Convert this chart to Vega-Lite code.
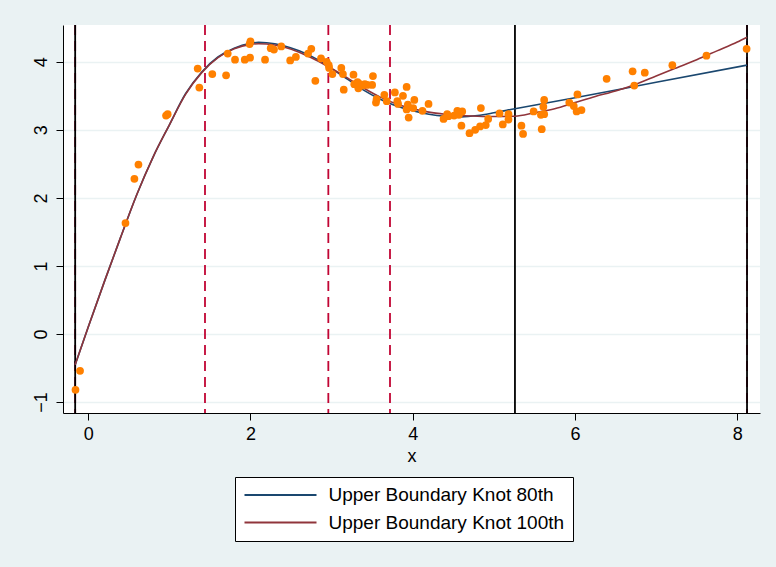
{
  "$schema": "https://vega.github.io/schema/vega-lite/v6.json",
  "width": 697,
  "height": 388,
  "autosize": {"type": "none"},
  "padding": {"left": 63, "top": 25, "right": 16, "bottom": 154},
  "background": "#EAF2F3",
  "config": {
    "view": {"fill": "white", "stroke": null},
    "font": "Liberation Sans",
    "axis": {
      "domainColor": "#000000",
      "domainWidth": 1,
      "tickColor": "#000000",
      "tickSize": 7,
      "labelFont": "Liberation Sans",
      "labelFontSize": 18,
      "labelColor": "#000000",
      "titleFont": "Liberation Sans",
      "titleFontSize": 18,
      "titleFontWeight": "normal",
      "titleColor": "#000000",
      "gridColor": "#EAF2F3",
      "gridWidth": 1.5
    }
  },
  "datasets": {
    "points": [
      {"x": -0.156, "y": -0.82}, {"x": -0.10, "y": -0.54}, {"x": 0.46, "y": 1.63}, {"x": 0.57, "y": 2.28},
      {"x": 0.62, "y": 2.49}, {"x": 0.96, "y": 3.21}, {"x": 0.98, "y": 3.23}, {"x": 1.35, "y": 3.90},
      {"x": 1.37, "y": 3.62}, {"x": 1.53, "y": 3.82}, {"x": 1.70, "y": 3.80}, {"x": 1.72, "y": 4.12},
      {"x": 1.81, "y": 4.03}, {"x": 1.93, "y": 4.03}, {"x": 1.995, "y": 4.06}, {"x": 1.99, "y": 4.26},
      {"x": 2.00, "y": 4.30}, {"x": 2.18, "y": 4.03}, {"x": 2.25, "y": 4.20}, {"x": 2.29, "y": 4.18},
      {"x": 2.38, "y": 4.225}, {"x": 2.49, "y": 4.02}, {"x": 2.56, "y": 4.07}, {"x": 2.71, "y": 4.12},
      {"x": 2.75, "y": 4.19}, {"x": 2.80, "y": 3.72}, {"x": 2.87, "y": 4.05}, {"x": 2.94, "y": 4.00},
      {"x": 2.965, "y": 3.95}, {"x": 2.97, "y": 3.91}, {"x": 3.01, "y": 3.82}, {"x": 3.12, "y": 3.91},
      {"x": 3.14, "y": 3.82}, {"x": 3.15, "y": 3.59}, {"x": 3.27, "y": 3.81}, {"x": 3.28, "y": 3.67},
      {"x": 3.32, "y": 3.70}, {"x": 3.33, "y": 3.61}, {"x": 3.34, "y": 3.64}, {"x": 3.35, "y": 3.67},
      {"x": 3.38, "y": 3.65}, {"x": 3.41, "y": 3.67}, {"x": 3.44, "y": 3.66}, {"x": 3.50, "y": 3.66},
      {"x": 3.51, "y": 3.79}, {"x": 3.547, "y": 3.40}, {"x": 3.555, "y": 3.45}, {"x": 3.65, "y": 3.515},
      {"x": 3.68, "y": 3.42}, {"x": 3.78, "y": 3.55}, {"x": 3.81, "y": 3.42}, {"x": 3.82, "y": 3.38},
      {"x": 3.88, "y": 3.50}, {"x": 3.925, "y": 3.63}, {"x": 3.94, "y": 3.37}, {"x": 3.925, "y": 3.30},
      {"x": 3.95, "y": 3.18}, {"x": 4.006, "y": 3.32}, {"x": 4.02, "y": 3.44}, {"x": 4.12, "y": 3.28},
      {"x": 4.195, "y": 3.38}, {"x": 4.38, "y": 3.16}, {"x": 4.425, "y": 3.23}, {"x": 4.44, "y": 3.20},
      {"x": 4.51, "y": 3.21}, {"x": 4.55, "y": 3.28}, {"x": 4.57, "y": 3.22}, {"x": 4.61, "y": 3.27},
      {"x": 4.60, "y": 3.06}, {"x": 4.70, "y": 2.95}, {"x": 4.77, "y": 3.00}, {"x": 4.83, "y": 3.05},
      {"x": 4.90, "y": 3.07}, {"x": 4.84, "y": 3.32}, {"x": 4.93, "y": 3.16}, {"x": 5.07, "y": 3.24},
      {"x": 5.11, "y": 3.08}, {"x": 5.18, "y": 3.23}, {"x": 5.18, "y": 3.15}, {"x": 5.34, "y": 3.06},
      {"x": 5.36, "y": 2.94}, {"x": 5.49, "y": 3.27}, {"x": 5.59, "y": 3.01}, {"x": 5.58, "y": 3.22},
      {"x": 5.62, "y": 3.23}, {"x": 5.61, "y": 3.34}, {"x": 5.62, "y": 3.44}, {"x": 5.93, "y": 3.40},
      {"x": 5.985, "y": 3.35}, {"x": 6.03, "y": 3.52}, {"x": 6.02, "y": 3.27}, {"x": 6.08, "y": 3.29},
      {"x": 6.39, "y": 3.75}, {"x": 6.71, "y": 3.86}, {"x": 6.73, "y": 3.65}, {"x": 6.86, "y": 3.84},
      {"x": 7.20, "y": 3.95}, {"x": 7.62, "y": 4.09}, {"x": 8.115, "y": 4.19}
    ],
    "curves": [
      {"series": "Upper Boundary Knot 80th", "x": -0.16, "y": -0.45},
      {"series": "Upper Boundary Knot 80th", "x": 0.0, "y": 0.10},
      {"series": "Upper Boundary Knot 80th", "x": 0.2, "y": 0.77},
      {"series": "Upper Boundary Knot 80th", "x": 0.4, "y": 1.42},
      {"series": "Upper Boundary Knot 80th", "x": 0.6, "y": 2.05},
      {"series": "Upper Boundary Knot 80th", "x": 0.8, "y": 2.60},
      {"series": "Upper Boundary Knot 80th", "x": 1.0, "y": 3.07},
      {"series": "Upper Boundary Knot 80th", "x": 1.2, "y": 3.53},
      {"series": "Upper Boundary Knot 80th", "x": 1.4, "y": 3.85},
      {"series": "Upper Boundary Knot 80th", "x": 1.6, "y": 4.07},
      {"series": "Upper Boundary Knot 80th", "x": 1.8, "y": 4.20},
      {"series": "Upper Boundary Knot 80th", "x": 2.0, "y": 4.27},
      {"series": "Upper Boundary Knot 80th", "x": 2.1, "y": 4.285},
      {"series": "Upper Boundary Knot 80th", "x": 2.2, "y": 4.28},
      {"series": "Upper Boundary Knot 80th", "x": 2.4, "y": 4.24},
      {"series": "Upper Boundary Knot 80th", "x": 2.6, "y": 4.16},
      {"series": "Upper Boundary Knot 80th", "x": 2.8, "y": 4.05},
      {"series": "Upper Boundary Knot 80th", "x": 3.0, "y": 3.90},
      {"series": "Upper Boundary Knot 80th", "x": 3.2, "y": 3.74},
      {"series": "Upper Boundary Knot 80th", "x": 3.4, "y": 3.58},
      {"series": "Upper Boundary Knot 80th", "x": 3.6, "y": 3.45},
      {"series": "Upper Boundary Knot 80th", "x": 3.8, "y": 3.35},
      {"series": "Upper Boundary Knot 80th", "x": 4.0, "y": 3.28},
      {"series": "Upper Boundary Knot 80th", "x": 4.2, "y": 3.23},
      {"series": "Upper Boundary Knot 80th", "x": 4.4, "y": 3.20},
      {"series": "Upper Boundary Knot 80th", "x": 4.6, "y": 3.19},
      {"series": "Upper Boundary Knot 80th", "x": 4.8, "y": 3.21},
      {"series": "Upper Boundary Knot 80th", "x": 5.0, "y": 3.25},
      {"series": "Upper Boundary Knot 80th", "x": 5.26, "y": 3.31},
      {"series": "Upper Boundary Knot 80th", "x": 6.0, "y": 3.47},
      {"series": "Upper Boundary Knot 80th", "x": 7.0, "y": 3.70},
      {"series": "Upper Boundary Knot 80th", "x": 8.12, "y": 3.95},
      {"series": "Upper Boundary Knot 100th", "x": -0.16, "y": -0.45},
      {"series": "Upper Boundary Knot 100th", "x": 0.0, "y": 0.10},
      {"series": "Upper Boundary Knot 100th", "x": 0.2, "y": 0.77},
      {"series": "Upper Boundary Knot 100th", "x": 0.4, "y": 1.42},
      {"series": "Upper Boundary Knot 100th", "x": 0.6, "y": 2.05},
      {"series": "Upper Boundary Knot 100th", "x": 0.8, "y": 2.60},
      {"series": "Upper Boundary Knot 100th", "x": 1.0, "y": 3.07},
      {"series": "Upper Boundary Knot 100th", "x": 1.2, "y": 3.52},
      {"series": "Upper Boundary Knot 100th", "x": 1.4, "y": 3.84},
      {"series": "Upper Boundary Knot 100th", "x": 1.6, "y": 4.06},
      {"series": "Upper Boundary Knot 100th", "x": 1.8, "y": 4.19},
      {"series": "Upper Boundary Knot 100th", "x": 2.0, "y": 4.255},
      {"series": "Upper Boundary Knot 100th", "x": 2.1, "y": 4.265},
      {"series": "Upper Boundary Knot 100th", "x": 2.2, "y": 4.26},
      {"series": "Upper Boundary Knot 100th", "x": 2.4, "y": 4.22},
      {"series": "Upper Boundary Knot 100th", "x": 2.6, "y": 4.14},
      {"series": "Upper Boundary Knot 100th", "x": 2.8, "y": 4.03},
      {"series": "Upper Boundary Knot 100th", "x": 3.0, "y": 3.90},
      {"series": "Upper Boundary Knot 100th", "x": 3.2, "y": 3.76},
      {"series": "Upper Boundary Knot 100th", "x": 3.4, "y": 3.61},
      {"series": "Upper Boundary Knot 100th", "x": 3.6, "y": 3.48},
      {"series": "Upper Boundary Knot 100th", "x": 3.8, "y": 3.38},
      {"series": "Upper Boundary Knot 100th", "x": 4.0, "y": 3.31},
      {"series": "Upper Boundary Knot 100th", "x": 4.2, "y": 3.26},
      {"series": "Upper Boundary Knot 100th", "x": 4.4, "y": 3.23},
      {"series": "Upper Boundary Knot 100th", "x": 4.6, "y": 3.21},
      {"series": "Upper Boundary Knot 100th", "x": 4.8, "y": 3.20},
      {"series": "Upper Boundary Knot 100th", "x": 5.0, "y": 3.195},
      {"series": "Upper Boundary Knot 100th", "x": 5.26, "y": 3.20},
      {"series": "Upper Boundary Knot 100th", "x": 5.5, "y": 3.25},
      {"series": "Upper Boundary Knot 100th", "x": 5.75, "y": 3.31},
      {"series": "Upper Boundary Knot 100th", "x": 6.0, "y": 3.40},
      {"series": "Upper Boundary Knot 100th", "x": 6.25, "y": 3.49},
      {"series": "Upper Boundary Knot 100th", "x": 6.5, "y": 3.57},
      {"series": "Upper Boundary Knot 100th", "x": 6.75, "y": 3.67},
      {"series": "Upper Boundary Knot 100th", "x": 7.0, "y": 3.79},
      {"series": "Upper Boundary Knot 100th", "x": 7.25, "y": 3.91},
      {"series": "Upper Boundary Knot 100th", "x": 7.5, "y": 4.03},
      {"series": "Upper Boundary Knot 100th", "x": 7.75, "y": 4.16},
      {"series": "Upper Boundary Knot 100th", "x": 8.0, "y": 4.29},
      {"series": "Upper Boundary Knot 100th", "x": 8.12, "y": 4.36}
    ],
    "knots80": [{"knot": -0.16}, {"knot": 5.26}, {"knot": 8.12}],
    "knots100": [{"knot": -0.16}, {"knot": 1.44}, {"knot": 2.96}, {"knot": 3.72}, {"knot": 8.12}]
  },
  "layer": [
    {
      "data": {"name": "curves"},
      "mark": {"type": "rule", "opacity": 0},
      "encoding": {
        "x": {"field": "x", "type": "quantitative",
          "scale": {"domain": [-0.31, 8.28], "nice": false, "zero": false},
          "axis": {"values": [0, 2, 4, 6, 8], "format": "d", "title": "x", "grid": false, "labelPadding": 5, "titlePadding": 4}},
        "y": {"field": "y", "type": "quantitative",
          "scale": {"domain": [-1.16, 4.54], "nice": false, "zero": false},
          "axis": {"values": [-1, 0, 1, 2, 3, 4], "format": "d", "title": null, "grid": true, "labelAngle": -90, "labelPadding": 6}}
      }
    },
    {
      "data": {"name": "knots100"},
      "mark": {"type": "rule", "color": "#C10534", "strokeWidth": 1.8, "strokeDash": [10, 6]},
      "encoding": {"x": {"field": "knot", "type": "quantitative"}}
    },
    {
      "data": {"name": "knots80"},
      "mark": {"type": "rule", "color": "#000000", "strokeWidth": 1.8},
      "encoding": {"x": {"field": "knot", "type": "quantitative"}}
    },
    {
      "data": {"name": "curves"},
      "mark": {"type": "line", "strokeWidth": 1.6, "interpolate": "monotone"},
      "encoding": {
        "x": {"field": "x", "type": "quantitative"},
        "y": {"field": "y", "type": "quantitative"},
        "color": {"field": "series", "type": "nominal",
          "scale": {"domain": ["Upper Boundary Knot 80th", "Upper Boundary Knot 100th"], "range": ["#1A476F", "#90353B"]},
          "legend": {
            "title": null,
            "orient": "none",
            "legendX": 172,
            "legendY": 452,
            "direction": "vertical",
            "padding": 8,
            "fillColor": "white",
            "strokeColor": "#000000",
            "cornerRadius": 0,
            "symbolType": "M-4,0H4",
            "symbolSize": 324,
            "symbolStrokeWidth": 2,
            "symbolOffset": 27.5,
            "labelOffset": 38,
            "labelFont": "Liberation Sans",
            "labelFontSize": 19,
            "labelColor": "#000000",
            "labelLimit": 400,
            "rowPadding": 7.5
          }
        }
      }
    },
    {
      "data": {"name": "points"},
      "mark": {"type": "circle", "color": "#FF8000", "opacity": 1, "size": 60},
      "encoding": {
        "x": {"field": "x", "type": "quantitative"},
        "y": {"field": "y", "type": "quantitative"}
      }
    }
  ]
}
